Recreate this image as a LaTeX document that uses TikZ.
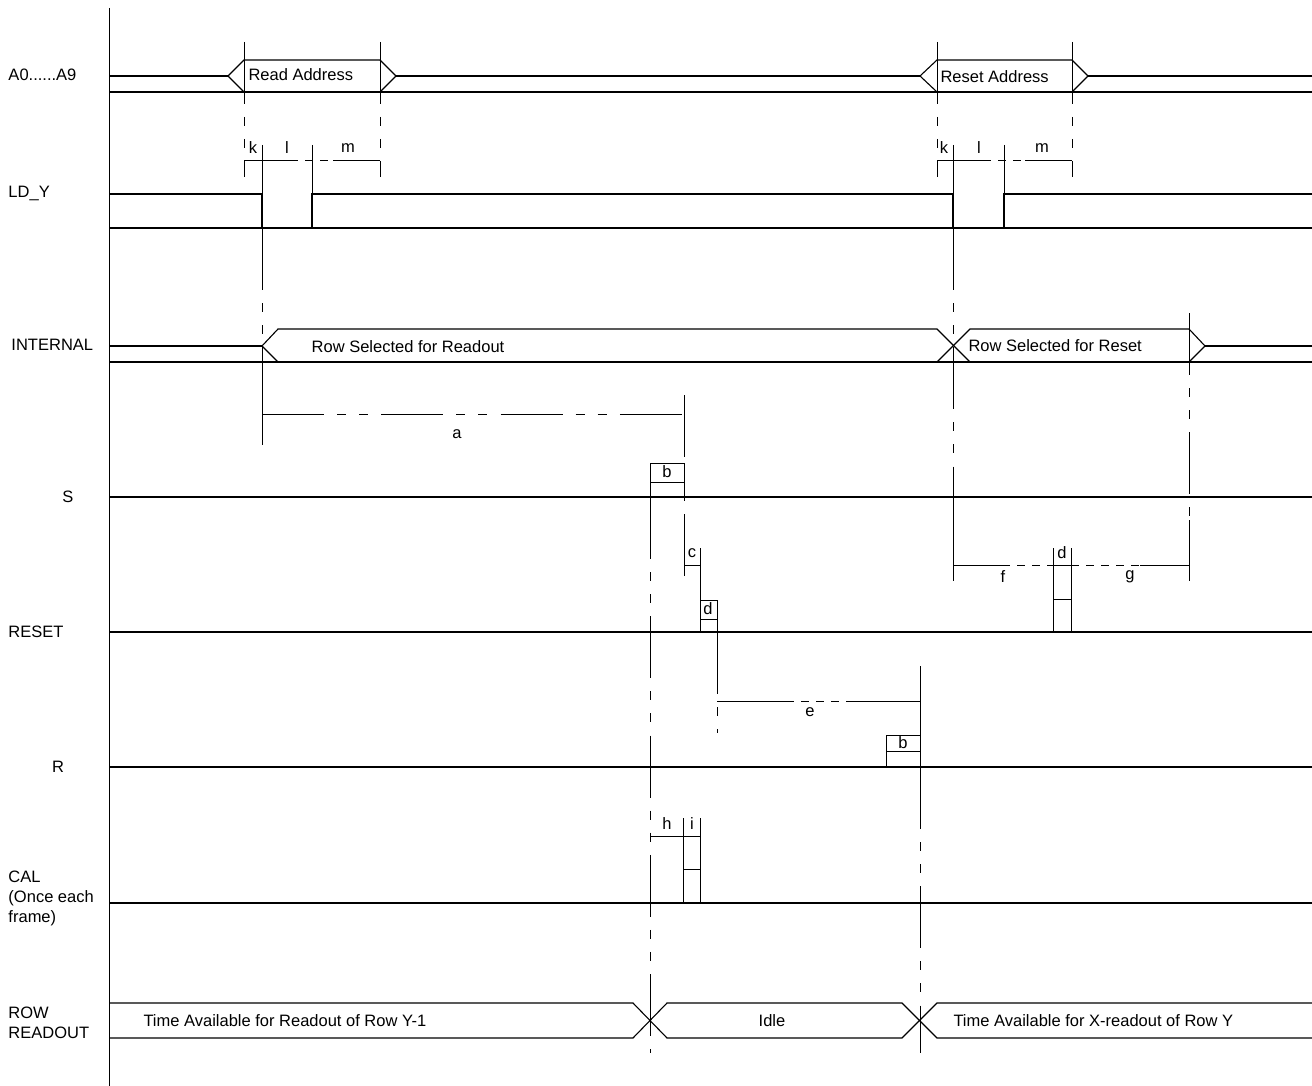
\documentclass[tikz,border=0pt]{standalone}
\usepackage{fontspec}
\setmainfont{Liberation Sans}
\begin{document}
\begin{tikzpicture}[x=1pt,y=-1pt,line width=1pt,line join=miter,
  sig/.style={line width=1.1pt},
  guide/.style={line width=1pt,dash pattern=on 62pt off 13pt on 9pt off 13pt on 9pt off 13.3pt},
  mid/.style={line width=1pt,dash pattern=on 8pt off 7pt},
  lbl/.style={font=\fontsize{16.5}{20}\selectfont,inner sep=0pt},
  wl/.style={lbl,anchor=west},
  ml/.style={lbl,anchor=west,align=left}]
\path[use as bounding box] (0,0) rectangle (1312,1086);
% axis
\draw (109,8) -- (109,1086);

% ---------- A0..A9 bus
\draw[sig] (109,76) -- (228,76);
\draw[sig] (228,76) -- (244,60) -- (380,60) -- (396,76) -- (380,92);
\draw[sig] (244,92) -- (228,76);
\draw[sig] (396,76) -- (920,76);
\draw[sig] (920,76) -- (937,60) -- (1072,60) -- (1088,76) -- (1072,92);
\draw[sig] (937,92) -- (920,76);
\draw[sig] (1088,76) -- (1312,76);
\draw[sig] (109,92) -- (1312,92);
\node[wl] (tRead) at (248,75) {Read Address};
\node[wl] (tReset) at (940,77) {Reset Address};

% guide lines for address windows
\draw[guide] (244,42) -- (244,177);
\draw[guide] (380,42) -- (380,177);
\draw[guide] (937,42) -- (937,177);
\draw[guide] (1072,42) -- (1072,177);

% k l m brackets
\draw (244,161) -- (290,161);
\draw[mid] (290,161) -- (333,161);
\draw (333,161) -- (380,161);
\draw (937,161) -- (983,161);
\draw[mid] (983,161) -- (1025,161);
\draw (1025,161) -- (1072,161);
\draw (262,145) -- (262,194);
\draw (312,145) -- (312,194);
\draw (953,145) -- (953,194);
\draw (1004,145) -- (1004,194);
\node[lbl] (k1) at (253,148) {k};
\node[lbl] (l1) at (287,148) {l};
\node[lbl] (m1) at (348,148) {m};
\node[lbl] (k2) at (944,148) {k};
\node[lbl] (l2) at (979,148) {l};
\node[lbl] (m2) at (1042,148) {m};

% ---------- LD_Y
\draw[sig] (109,194) -- (262,194) -- (262,228);
\draw[sig] (312,228) -- (312,194) -- (953,194) -- (953,228);
\draw[sig] (1004,228) -- (1004,194) -- (1312,194);
\draw[sig] (109,228) -- (1312,228);

% ---------- INTERNAL bus
\draw[sig] (109,346) -- (262,346);
\draw[sig] (262,346) -- (278,329) -- (937,329) -- (970,362);
\draw[sig] (278,362) -- (262,346);
\draw[sig] (937,362) -- (970,329) -- (1189,329) -- (1205,346) -- (1189,362);
\draw[sig] (1205,346) -- (1312,346);
\draw[sig] (109,362) -- (1312,362);
\node[lbl] (tRowR) at (408,347) {Row Selected for Readout};
\node[wl] (tRowS) at (968,346) {Row Selected for Reset};

% guides from LD_Y edges
\draw[guide] (262,228) -- (262,383);
\draw (262,383) -- (262,445);
\draw[guide] (953,228) -- (953,520);
\draw (953,520) -- (953,581);
\draw[guide] (1189,313) -- (1189,520);
\draw (1189,520) -- (1189,581);

% a bracket
\draw[dash pattern=on 62pt off 13pt on 9pt off 13pt on 9pt off 13.3pt] (262,414) -- (684,414);
\node[lbl] (ta) at (457,434) {a};
\draw[guide] (684,395) -- (684,582);

% ---------- S
\draw[sig] (109,497) -- (1312,497);
\draw (650,497) -- (650,463) -- (684,463) -- (684,497);
\draw (650,482) -- (684,482);
\node[lbl] (tb1) at (667,472) {b};
\draw[guide] (650,497) -- (650,1053);

% c bracket
\draw (684,565) -- (700,565);
\draw (700,548) -- (700,600);
\node[lbl] (tc) at (692,553) {c};

% ---------- RESET
\draw[sig] (109,632) -- (1071,632);
\draw[line width=1.6pt] (1071,632) -- (1312,632);
\draw (700,632) -- (700,600) -- (717,600) -- (717,632);
\draw (700,619) -- (717,619);
\node[lbl] (td1) at (708,609) {d};
\draw[guide] (717,632) -- (717,733);

% f / g bracket with d
\draw (953,565) -- (1002,565);
\draw[mid] (1002,565) -- (1053,565);
\draw (1053,565) -- (1071,565);
\draw[mid] (1071,565) -- (1140,565);
\draw (1140,565) -- (1189,565);
\draw (1053,548) -- (1053,632);
\draw (1071,548) -- (1071,632);
\draw (1053,599) -- (1071,599);
\node[lbl] (td2) at (1062,553) {d};
\node[lbl] (tf) at (1003,577) {f};
\node[lbl] (tg) at (1130,577) {g};

% e bracket
\draw (717,701) -- (786,701);
\draw[mid] (786,701) -- (849,701);
\draw (849,701) -- (920,701);
\draw (920,666) -- (920,735);
\node[lbl] (te) at (810,712) {e};

% ---------- R
\draw[sig] (109,767) -- (1312,767);
\draw (886,767) -- (886,735) -- (920,735) -- (920,767);
\draw (886,751) -- (920,751);
\node[lbl] (tb2) at (903,743) {b};
\draw[guide] (920,767) -- (920,1053);

% ---------- CAL
\draw[sig] (109,903) -- (700,903);
\draw[line width=1.5pt] (700,903) -- (1312,903);
\draw (683,818) -- (683,903);
\draw (700,818) -- (700,903);
\draw (650,836) -- (700,836);
\draw (683,869) -- (700,869);
\node[lbl] (th) at (667,824) {h};
\node[lbl] (ti) at (692,824) {i};

% ---------- ROW READOUT
\draw[sig] (109,1003) -- (633,1003) -- (667,1038) -- (902,1038) -- (937,1003) -- (1312,1003);
\draw[sig] (109,1038) -- (633,1038) -- (667,1003) -- (902,1003) -- (937,1038) -- (1312,1038);
\node[wl] (tY1) at (143,1021) {Time Available for Readout of Row Y-1};
\node[lbl] (tIdle) at (772,1021) {Idle};
\node[wl] (tY) at (953,1021) {Time Available for X-readout of Row Y};

% ---------- left labels
\node[wl] (nA) at (8,75) {A0......A9};
\node[wl] (nLD) at (8,193) {LD\_Y};
\node[wl] (nINT) at (11,345) {INTERNAL};
\node[lbl] (nS) at (68,497) {S};
\node[wl] (nRST) at (8,632) {RESET};
\node[lbl] (nR) at (58,767) {R};
\node[ml] (nCAL) at (8,898) {CAL\\(Once each\\frame)};
\node[ml] (nROW) at (8,1023) {ROW\\READOUT};
\end{tikzpicture}
\end{document}
